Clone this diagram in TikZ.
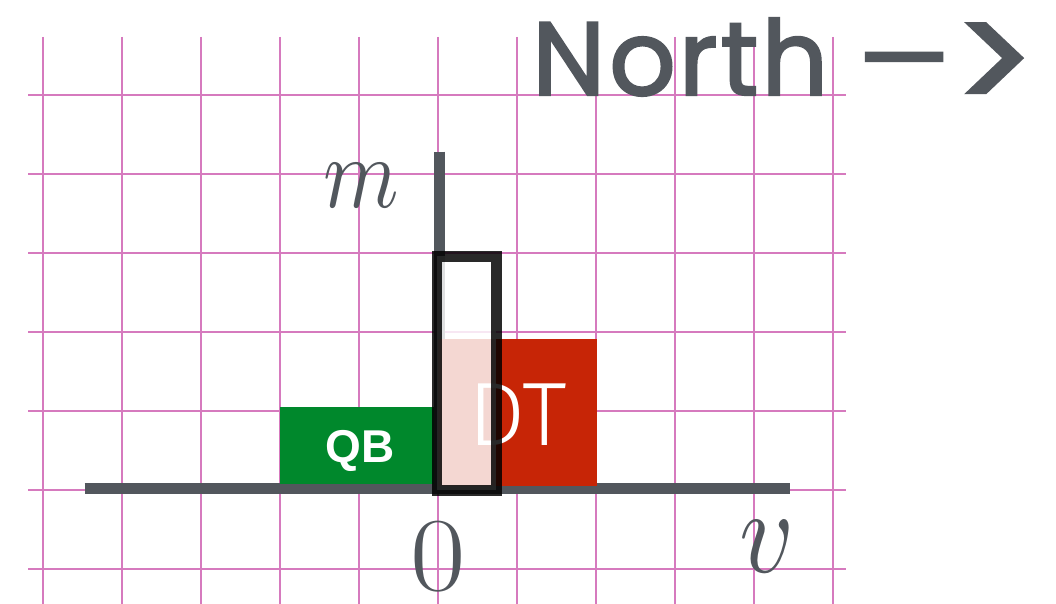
\documentclass[tikz,border=0pt]{standalone}
\usepackage{fontspec}
\newfontfamily\qbfont{Liberation Sans}
\newfontfamily\dtfont{Fira Sans Light}
\newfontfamily\northfont{Poppins}[FakeBold=2.2]
\newfontfamily\zerofont{Latin Modern Roman}[FakeStretch=1.15]
\definecolor{axisgray}{RGB}{82,87,93}
\definecolor{gridpink}{RGB}{214,122,190}
\definecolor{qbgreen}{RGB}{0,136,44}
\definecolor{dtred}{RGB}{199,37,6}
\tikzset{
  gridline/.style={draw=gridpink, line width=2pt},
  axisline/.style={draw=axisgray, line width=10.6pt},
  hilite/.style={draw=black, draw opacity=0.84, line width=10.5pt, fill=white, fill opacity=0.82},
  mathlbl/.style={text=axisgray, inner sep=0pt, outer sep=0pt},
}
\begin{document}
\begin{tikzpicture}[x=1pt,y=-1pt]
\useasboundingbox[fill=white] (0,0) rectangle (1056,604);
% grid
\foreach \gx in {43,122,201,280,359,438,517,596,675,754,833}
  \draw[gridline] (\gx,37) -- (\gx,604);
\foreach \gy in {95.3,174.3,253.3,332.3,411.3,490.3,569.3}
  \draw[gridline] (28,\gy) -- (846,\gy);
% axes
\coordinate (xl) at (84.5,488.6);
\coordinate (xr) at (790,488.6);
\coordinate (yt) at (439.7,151.7);
\coordinate (yb) at (439.7,488.6);
\draw[axisline] (xl) -- (xr);
\draw[axisline] (yt) -- (yb);
% bars
\fill[qbgreen] (280,406.7) rectangle (433.5,483.5);
\fill[dtred] (438,339) rectangle (596.7,485.7);
\node[text=white, font=\qbfont\bfseries\fontsize{46}{50}\selectfont, anchor=base, inner sep=0pt] (qb) at (360,462.7) {QB};
\node[text=white, font=\dtfont\fontsize{90}{96}\selectfont, anchor=base, inner sep=0pt] (dt) at (518,445) {DT};
% highlight box
\draw[hilite] (437,256.4) rectangle (496.4,490.4);
% labels
\node[mathlbl, xscale=8.6, yscale=10.2] (m) at (361,185.5) {$m$};
\node[mathlbl, font=\zerofont\fontsize{105}{110}\selectfont, anchor=base] (zero) at (438.5,590) {0};
\node[mathlbl, xscale=10.6, yscale=12] (v) at (767,546.5) {$v$};
% north
\node[text=axisgray, font=\northfont\fontsize{104}{110}\selectfont, anchor=base west, inner sep=0pt] (north) at (532,95)
  {N\kern4pt o\kern3pt r\kern3pt t\kern3pt h\hspace{30pt}—\kern4pt\raisebox{-18pt}{\fontsize{150}{150}\selectfont >}};
\end{tikzpicture}
\end{document}
